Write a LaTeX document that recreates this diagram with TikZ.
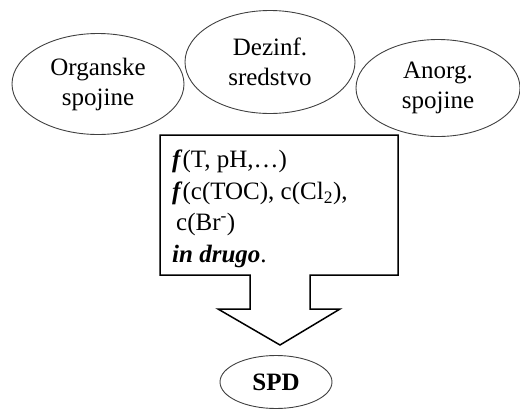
\documentclass[tikz,border=0pt]{standalone}
\usepackage{fontspec}
\setmainfont{Liberation Serif}
\usepackage{tikz}
\usetikzlibrary{shapes.geometric}

\begin{document}
\begin{tikzpicture}
            [x=1pt,y=-1pt,
            oval/.style={ellipse,draw=black!75,line width=0.9pt,inner sep=0pt,
                text centered,align=center,font=\fontsize{25}{30}\selectfont},
            okvir/.style={draw,line width=1.5pt,line join=miter}]
            \useasboundingbox (0,0) rectangle (520,410);
            \node[oval,minimum width=172pt,minimum height=101pt] (org) at (98,84) {Organske\\spojine};
            \node[oval,minimum width=170pt,minimum height=103pt] (dez) at (270,62) {Dezinf.\\sredstvo};
            \node[oval,minimum width=164pt,minimum height=97pt] (anorg) at (438,88) {Anorg.\\spojine};
            % okvir s puscico navzdol
            \draw[okvir] (160,135) -- (398,135) -- (398,275) -- (310,275) -- (310,309)
                -- (340,309) -- (280,345) coordinate (konica) -- (218,309) -- (250,309)
                -- (250,275) -- (160,275) -- cycle;
            \node[anchor=north west,align=left,inner sep=0pt,
                font=\fontsize{25}{31.5}\selectfont] (pogoji) at (172,150)
                {\textbf{\textit{f}}(T, pH,\dots)\\
                 \textbf{\textit{f}}(c(TOC), c(Cl\textsubscript{2}),\\
                 \hspace{4pt}c(Br\textsuperscript{-})\\
                 \textbf{\textit{in drugo}}.};
            \node[oval,minimum width=112pt,minimum height=53pt,
                font=\fontsize{25}{30}\selectfont\bfseries] (spd) at (276,382) {SPD};
        \end{tikzpicture}
\end{document}
